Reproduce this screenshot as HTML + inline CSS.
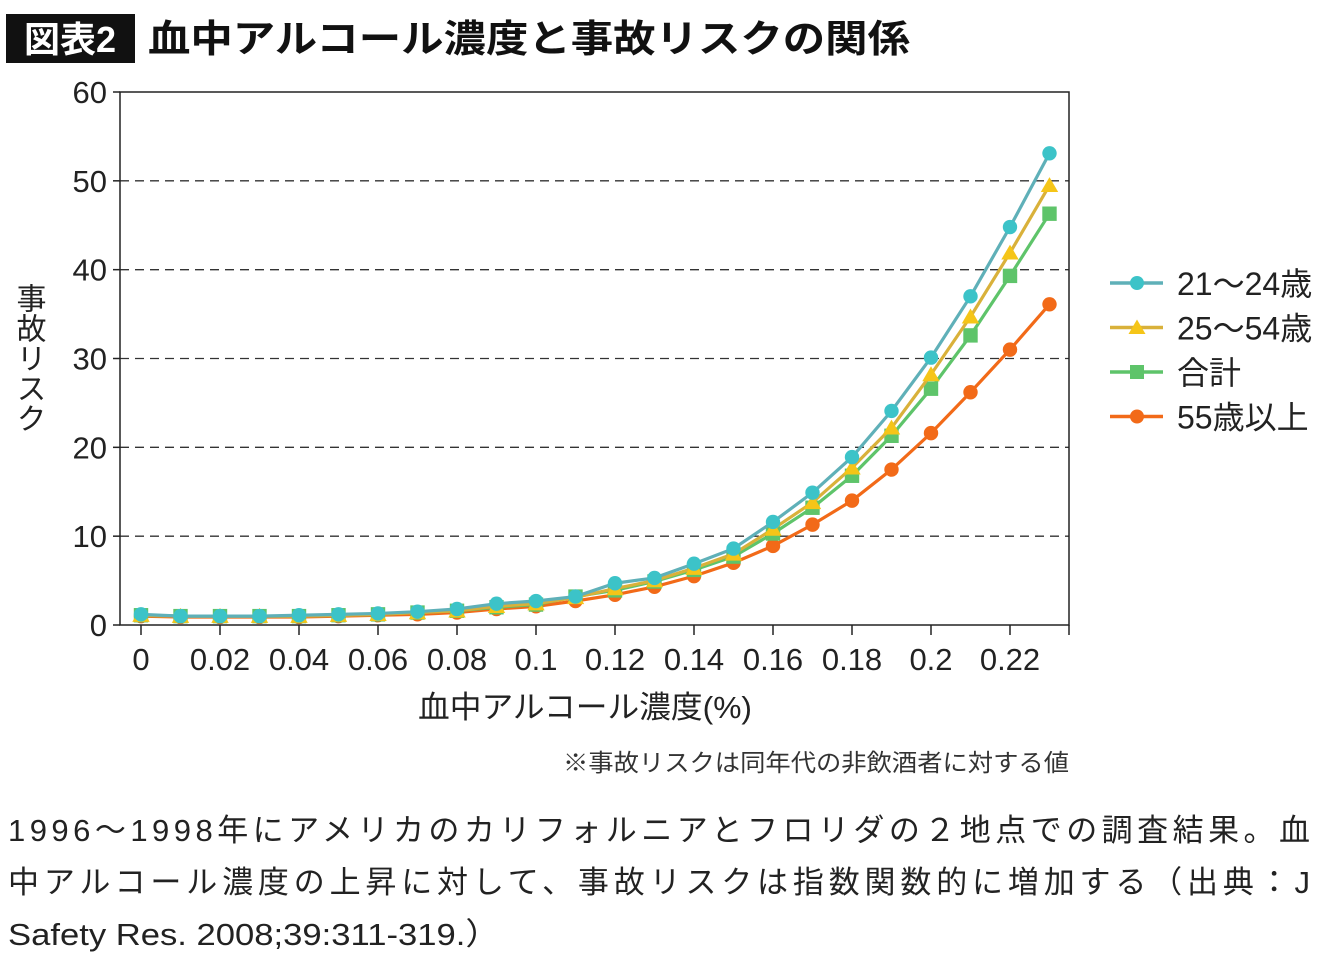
<!DOCTYPE html>
<html><head><meta charset="utf-8"><style>
body{margin:0;background:#fff;width:1340px;height:965px;overflow:hidden}
svg{display:block;font-family:"Liberation Sans","Noto Sans CJK JP",sans-serif}
</style></head><body>
<svg id="chart" width="1340" height="965">
<rect x="6" y="14" width="129" height="49" fill="#111"/>
<text x="70" y="52" fill="#fff" font-size="36" font-weight="bold" text-anchor="middle">図表2</text>
<text x="148" y="52" fill="#111" font-size="38" textLength="762" lengthAdjust="spacingAndGlyphs" style="font-weight:600">血中アルコール濃度と事故リスクの関係</text>
<g id="grid"></g>
<rect x="120" y="92" width="949" height="533" fill="none" stroke="#222" stroke-width="1.5"/>
<g id="axes"></g>
<g id="series"></g>
<text x="418" y="718" font-size="31" fill="#222" textLength="334" lengthAdjust="spacingAndGlyphs">血中アルコール濃度(%)</text>
<text x="28" y="283" font-size="30" fill="#222" style="writing-mode:vertical-rl">事故リスク</text>
<text x="563" y="771" font-size="24" fill="#333" textLength="506" lengthAdjust="spacingAndGlyphs">※事故リスクは同年代の非飲酒者に対する値</text>
<g id="legend"></g>
<text x="8" y="841" font-size="31" fill="#222" textLength="1302" lengthAdjust="spacing">1996～1998年にアメリカのカリフォルニアとフロリダの２地点での調査結果。血</text>
<text x="8" y="893" font-size="31" fill="#222" textLength="1302" lengthAdjust="spacing">中アルコール濃度の上昇に対して、事故リスクは指数関数的に増加する（出典：J</text>
<text x="8" y="945" font-size="31" fill="#222" textLength="492" lengthAdjust="spacingAndGlyphs">Safety Res. 2008;39:311-319.）</text>
</svg>
<script>
const xValues=[0,0.01,0.02,0.03,0.04,0.05,0.06,0.07,0.08,0.09,0.1,0.11,0.12,0.13,0.14,0.15,0.16,0.17,0.18,0.19,0.2,0.21,0.22,0.23];
const age21to24=[1.2,1.0,1.0,1.0,1.1,1.2,1.3,1.5,1.8,2.4,2.7,3.2,4.7,5.3,6.9,8.6,11.6,14.9,18.9,24.1,30.1,37.0,44.8,53.1];
const age25to54=[1.1,1.0,1.0,1.0,1.0,1.1,1.2,1.4,1.6,2.1,2.4,3.1,4.1,5.0,6.4,8.0,10.8,13.8,17.7,22.2,28.2,34.7,41.9,49.5];
const total=[1.1,1.0,1.0,1.0,1.0,1.1,1.2,1.4,1.6,2.0,2.3,3.2,3.9,4.9,6.2,7.7,10.3,13.2,16.8,21.3,26.6,32.6,39.3,46.3];
const age55plus=[1.0,0.9,0.9,0.9,0.9,1.0,1.1,1.2,1.4,1.8,2.1,2.7,3.4,4.3,5.5,7.0,8.9,11.3,14.0,17.5,21.6,26.2,31.0,36.1];
const yTicks=[0,10,20,30,40,50,60];
const xTicks=[0,0.02,0.04,0.06,0.08,0.1,0.12,0.14,0.16,0.18,0.2,0.22];
const xTickLabels=["0","0.02","0.04","0.06","0.08","0.1","0.12","0.14","0.16","0.18","0.2","0.22"];
const seriesNames=["21～24歳","25～54歳","合計","55歳以上"];
const NS="http://www.w3.org/2000/svg";
const X=v=>141+v*3950;
const Y=v=>625-v*(533/60);
function mk(tag,attrs,parent){const e=document.createElementNS(NS,tag);for(const k in attrs)e.setAttribute(k,attrs[k]);parent.appendChild(e);return e;}
const grid=document.getElementById('grid'),axes=document.getElementById('axes'),ser=document.getElementById('series'),leg=document.getElementById('legend');
yTicks.forEach(t=>{
  if(t>0&&t<60){const l=mk('line',{x1:120,x2:1069,y1:Y(t),y2:Y(t),stroke:'#333','stroke-width':1.3,'stroke-dasharray':'9,6'},grid);
  
  }
  const tk=mk('line',{x1:113,x2:120,y1:Y(t),y2:Y(t),stroke:'#222','stroke-width':1.5},axes);
  
  
  const tx=mk('text',{x:107,y:Y(t)+11,'font-size':31,'text-anchor':'end',fill:'#222'},axes);
  tx.textContent=t;
  
  
});
xTicks.forEach((t,i)=>{
  const tk=mk('line',{x1:X(t),x2:X(t),y1:625,y2:635,stroke:'#222','stroke-width':1.5},axes);
  
  
  const tx=mk('text',{x:X(t),y:670,'font-size':31,'text-anchor':'middle',fill:'#222'},axes);
  tx.textContent=xTickLabels[i];
  
  
});
const tk2=mk('line',{x1:1069,x2:1069,y1:625,y2:635,stroke:'#222','stroke-width':1.5},axes);


const styles=[{c:'#3cc3c8',lc:'#5fb0b8',m:'circle'},{c:'#f5c518',lc:'#d9b13a',m:'tri'},{c:'#5ec46a',lc:'#5ec46a',m:'square'},{c:'#f26a18',lc:'#f26a18',m:'circle'}];
function marker(g,s,x,y,r){
  if(s.m==='circle')return mk('circle',{cx:x,cy:y,r:r,fill:s.c},g);
  if(s.m==='square')return mk('rect',{x:x-r,y:y-r,width:2*r,height:2*r,fill:s.c},g);
  return mk('polygon',{points:`${x},${y-r-1} ${x+r+1.5},${y+r-0.5} ${x-r-1.5},${y+r-0.5}`,fill:s.c},g);
}
const data=[age21to24,age25to54,total,age55plus];
[3,2,1,0].forEach(si=>{
  const s=styles[si],vals=data[si];
  const g=mk('g',{},ser);
  
  
  const p=mk('polyline',{points:vals.map((v,i)=>X(xValues[i])+','+Y(v)).join(' '),fill:'none',stroke:s.lc,'stroke-width':3.2},g);
  
  
  vals.forEach((v,i)=>{const m=marker(g,s,X(xValues[i]),Y(v),7.2);
    
    });
});
seriesNames.forEach((n,i)=>{
  const y=283+i*44.5,s=styles[i];
  const g=mk('g',{},leg);
  
  
  mk('line',{x1:1110,x2:1163,y1:y,y2:y,stroke:s.lc,'stroke-width':3.5},g);
  marker(g,s,1137,y,7);
  const t=mk('text',{x:1177,y:y+12,'font-size':32,fill:'#222'},g);
  t.textContent=n;
});
</script>
</body></html>
